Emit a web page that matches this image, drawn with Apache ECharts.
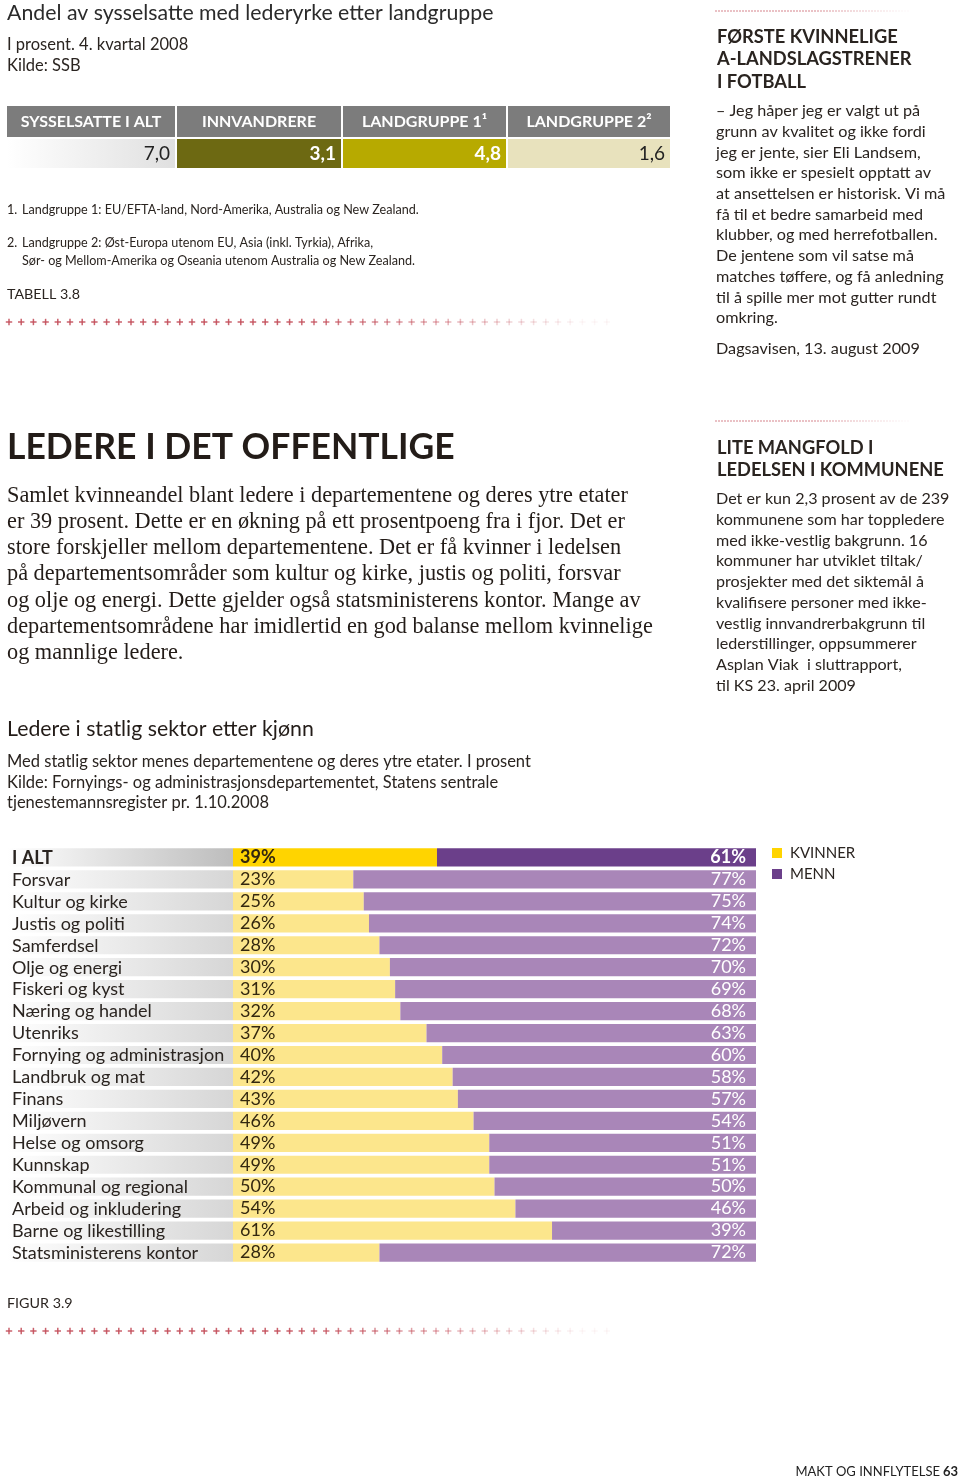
<!DOCTYPE html>
<html><head><meta charset="utf-8">
<script src="https://cdn.jsdelivr.net/npm/echarts@6/dist/echarts.min.js"></script>
<style>html,body{margin:0;padding:0;background:#fff}#c{width:960px;height:1479px}</style>
</head><body><div id="c"></div>
<script>
// ---- data ----
const categories = ['I ALT','Forsvar','Kultur og kirke','Justis og politi','Samferdsel','Olje og energi','Fiskeri og kyst','Næring og handel','Utenriks','Fornying og administrasjon','Landbruk og mat','Finans','Miljøvern','Helse og omsorg','Kunnskap','Kommunal og regional','Arbeid og inkludering','Barne og likestilling','Statsministerens kontor'];
const kvinner = [39,23,25,26,28,30,31,32,37,40,42,43,46,49,49,50,54,61,28];
const menn = [61,77,75,74,72,70,69,68,63,60,58,57,54,51,51,50,46,39,72];
const seriesNames = ['KVINNER','MENN'];
const tableHeaders = ['SYSSELSATTE I ALT','INNVANDRERE','LANDGRUPPE 1¹','LANDGRUPPE 2²'];
const tableValues = [7.0, 3.1, 4.8, 1.6];

// ---- styling ----
const SANS = 'Lato, "Open Sans", sans-serif';
const SERIF = '"Liberation Serif", "DejaVu Serif", serif';
const INK = '#2a2420';
const Y_STRONG = '#ffd400', P_STRONG = '#6b3f8a';
const Y_LIGHT = '#fce68c', P_LIGHT = '#a986b8';

const chart = echarts.init(document.getElementById('c'), null, {renderer:'canvas', width:960, height:1479});

const g = [];
function txt(x, y, text, font, fill, align) {
  g.push({type:'text', silent:true, style:{x, y, text, font, fill: fill || INK, align: align || 'left', verticalAlign:'middle'}});
}
function crosses(y, x0, n, step) {
  for (let i = 0; i < n; i++) {
    const x = x0 + i * step;
    const f = i / n;
    const op = f < 0.45 ? 0.9 : Math.max(0.05, 0.9 - (f - 0.45) * 1.75);
    g.push({type:'rect', silent:true, shape:{x:x-3.2, y:y-0.75, width:6.4, height:1.5}, style:{fill:'#c4505c', opacity:op}});
    g.push({type:'rect', silent:true, shape:{x:x-0.75, y:y-3.2, width:1.5, height:6.4}, style:{fill:'#c4505c', opacity:op}});
  }
}
function dots(y, x0, x1) {
  for (let x = x0; x <= x1; x += 3) {
    const f = (x - x0) / (x1 - x0);
    const op = f < 0.5 ? 0.8 : Math.max(0.05, 0.8 - (f - 0.5) * 1.6);
    g.push({type:'circle', silent:true, shape:{cx:x, cy:y, r:0.8}, style:{fill:'#c4505c', opacity:op}});
  }
}

// Top-left: table 3.8
txt(7, 13, 'Andel av sysselsatte med lederyrke etter landgruppe', '21.3px ' + SANS, '#2b2b2b');
txt(7, 45, 'I prosent. 4. kvartal 2008', '16.5px ' + SANS);
txt(7, 66, 'Kilde: SSB', '16.5px ' + SANS);

const cols = [[7,168],[177,164],[343,163],[508,162]];
const valFill = [
  new echarts.graphic.LinearGradient(0,0,1,0,[{offset:0,color:'#ffffff'},{offset:1,color:'#e0e0e0'}]),
  '#6d6912', '#b7aa00', '#e8e2bd'
];
const valText = ['#222', '#ffffff', '#ffffff', '#222'];
const valWeight = ['normal', 'bold', 'bold', 'normal'];
tableHeaders.forEach((h, i) => {
  const [x, w] = cols[i];
  g.push({type:'rect', silent:true, shape:{x, y:106, width:w, height:31}, style:{fill:'#7c7c7c'}});
  g.push({type:'rect', silent:true, shape:{x, y:139, width:w, height:29}, style:{fill:valFill[i]}});
  txt(x + w/2, 122, h, 'bold 16px ' + SANS, '#ffffff', 'center');
  txt(x + w - 5, 154, tableValues[i].toFixed(1).replace('.', ','), valWeight[i] + ' 19px ' + SANS, valText[i], 'right');
});
txt(7, 210, '1.', '12.6px ' + SANS);
txt(22, 210, 'Landgruppe 1: EU/EFTA-land, Nord-Amerika, Australia og New Zealand.', '12.6px ' + SANS);
txt(7, 243, '2.', '12.6px ' + SANS);
txt(22, 243, 'Landgruppe 2: Øst-Europa utenom EU, Asia (inkl. Tyrkia), Afrika,', '12.6px ' + SANS);
txt(22, 261, 'Sør- og Mellom-Amerika og Oseania utenom Australia og New Zealand.', '12.6px ' + SANS);
txt(7, 294, 'TABELL 3.8', '14.3px ' + SANS);
crosses(322, 9, 50, 12.2);

// Sidebar 1
dots(11, 716, 910);
['FØRSTE KVINNELIGE','A-LANDSLAGSTRENER','I FOTBALL'].forEach((t, i) => txt(717, 37 + i * 22.5, t, 'bold 18.3px ' + SANS));
['– Jeg håper jeg er valgt ut på','grunn av kvalitet og ikke fordi','jeg er jente, sier Eli Landsem,','som ikke er spesielt opptatt av','at ansettelsen er historisk. Vi må','få til et bedre samarbeid med','klubber, og med herrefotballen.','De jentene som vil satse må','matches tøffere, og få anledning','til å spille mer mot gutter rundt','omkring.'].forEach((t, i) => txt(716, 111 + i * 20.7, t, '16.2px ' + SANS));
txt(716, 349, 'Dagsavisen, 13. august 2009', '16.2px ' + SANS);

// Sidebar 2
dots(421, 716, 910);
['LITE MANGFOLD I','LEDELSEN I KOMMUNENE'].forEach((t, i) => txt(717, 448 + i * 22.5, t, 'bold 18.3px ' + SANS));
['Det er kun 2,3 prosent av de 239','kommunene som har toppledere','med ikke-vestlig bakgrunn. 16','kommuner har utviklet tiltak/','prosjekter med det siktemål å','kvalifisere personer med ikke-','vestlig innvandrerbakgrunn til','lederstillinger, oppsummerer','Asplan Viak  i sluttrapport,','til KS 23. april 2009'].forEach((t, i) => txt(716, 499 + i * 20.75, t, '16.1px ' + SANS));

// Main section
txt(7, 448, 'LEDERE I DET OFFENTLIGE', 'bold 35.5px ' + SANS, '#231c18');
['Samlet kvinneandel blant ledere i departementene og deres ytre etater','er 39 prosent. Dette er en økning på ett prosentpoeng fra i fjor. Det er','store forskjeller mellom departementene. Det er få kvinner i ledelsen','på departementsområder som kultur og kirke, justis og politi, forsvar','og olje og energi. Dette gjelder også statsministerens kontor. Mange av','departementsområdene har imidlertid en god balanse mellom kvinnelige','og mannlige ledere.'].forEach((t, i) => txt(7, 496 + i * 26.2, t, '22.3px ' + SERIF, '#231c18'));
txt(7, 729, 'Ledere i statlig sektor etter kjønn', '21.3px ' + SANS, '#231c18');
txt(7, 762, 'Med statlig sektor menes departementene og deres ytre etater. I prosent', '16.5px ' + SANS);
txt(7, 783, 'Kilde: Fornyings- og administrasjonsdepartementet, Statens sentrale', '16.5px ' + SANS);
txt(7, 803, 'tjenestemannsregister pr. 1.10.2008', '16.5px ' + SANS);
txt(7, 1303, 'FIGUR 3.9', '14.3px ' + SANS);
crosses(1331, 9, 50, 12.2);

// Footer
txt(958, 1472, '63', 'bold 13px ' + SANS, '#222', 'right');
txt(940, 1472, 'MAKT OG INNFLYTELSE', '13px ' + SANS, '#222', 'right');

// ---- chart ----
const labelBg = categories.map((c, i) => [0, i]);
const option = {
  animation: false,
  backgroundColor: '#ffffff',
  textStyle: {fontFamily: SANS},
  grid: {left: 233, width: 523, top: 846.5, height: 417, containLabel: false},
  xAxis: {type: 'value', min: 0, max: 100, show: false},
  yAxis: {type: 'category', data: categories, inverse: true, show: false},
  legend: {
    orient: 'vertical', left: 772, top: 845.5, padding: 0, itemWidth: 10, itemHeight: 10, itemGap: 6,
    icon: 'rect', selectedMode: false,
    textStyle: {fontFamily: SANS, fontSize: 15, lineHeight: 15, color: INK, padding: [0,0,0,3]},
    data: seriesNames
  },
  series: [
    {
      type: 'custom', name: 'labels', data: labelBg, encode: {x: 0, y: 1}, silent: true,
      renderItem: function (params, api) {
        const idx = api.value(1);
        const p = api.coord([0, idx]);
        const band = api.size([0, 1])[1];
        const h = band * 0.83;
        const strong = idx === 0;
        return {
          type: 'group',
          children: [
            {type: 'rect', shape: {x: 7, y: p[1] - h/2, width: p[0] - 7, height: h},
             style: {fill: new echarts.graphic.LinearGradient(0,0,1,0,[{offset:0,color:'#ffffff'},{offset:1,color: strong ? '#bdbdbd' : '#d6d6d6'}])}},
            {type: 'text', style: {x: 12, y: p[1] + 0.5, text: categories[idx], font: (strong ? 'bold ' : '') + '18px ' + SANS, fill: INK, verticalAlign: 'middle'}}
          ]
        };
      },
      z: 1
    },
    {
      type: 'bar', name: seriesNames[0], stack: 'tot', barCategoryGap: '17%',
      itemStyle: {color: Y_STRONG},
      data: kvinner.map((v, i) => ({value: v, itemStyle: {color: i === 0 ? Y_STRONG : Y_LIGHT},
        label: {fontWeight: i === 0 ? 'bold' : 'normal'}})),
      label: {show: true, position: 'insideLeft', distance: 7, formatter: '{c}%', fontFamily: SANS, fontSize: 18, color: '#33270f'}
    },
    {
      type: 'bar', name: seriesNames[1], stack: 'tot', barCategoryGap: '17%',
      itemStyle: {color: P_STRONG},
      data: menn.map((v, i) => ({value: v, itemStyle: {color: i === 0 ? P_STRONG : P_LIGHT},
        label: {fontWeight: i === 0 ? 'bold' : 'normal'}})),
      label: {show: true, position: 'insideRight', distance: 10, formatter: '{c}%', fontFamily: SANS, fontSize: 18, color: '#ffffff'}
    }
  ],
  graphic: {elements: g}
};
chart.setOption(option);
</script></body></html>
